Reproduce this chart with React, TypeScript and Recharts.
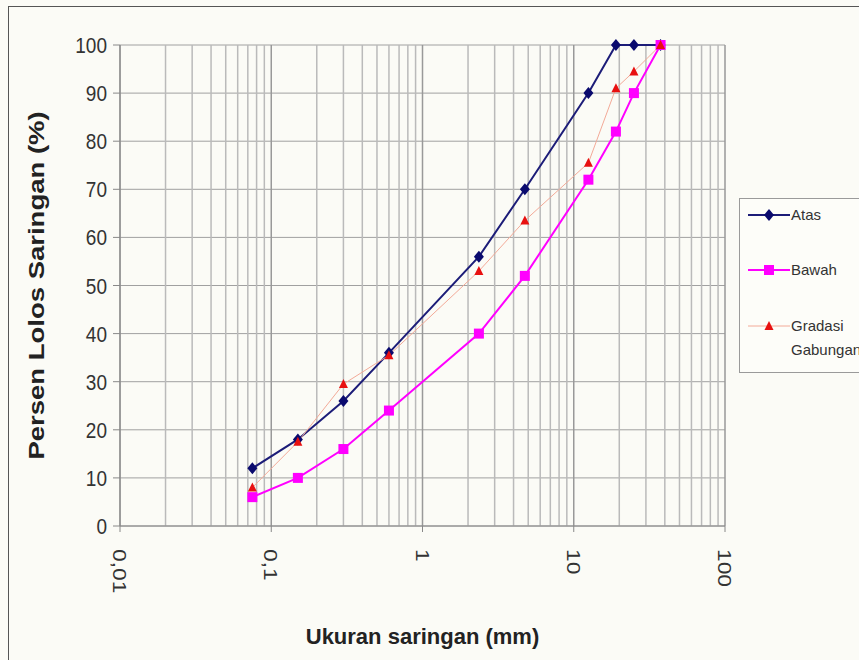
import { LineChart, Line, XAxis, YAxis, CartesianGrid, ReferenceLine, Label } from 'recharts';

const SIEVE = [0.075, 0.15, 0.3, 0.6, 2.36, 4.75, 12.5, 19, 25, 37.5];
const ATAS = [12, 18, 26, 36, 56, 70, 90, 100, 100, 100];
const BAWAH = [6, 10, 16, 24, 40, 52, 72, 82, 90, 100];
const GRADASI = [8, 17.5, 29.5, 35.5, 53, 63.5, 75.5, 91, 94.5, 100];

const X_TICKS = [0.01, 0.1, 1, 10, 100];
const X_TICK_LABELS = ['0,01', '0,1', '1', '10', '100'];
const Y_TICKS = [0, 10, 20, 30, 40, 50, 60, 70, 80, 90, 100];
const MINOR_STEPS = [2, 3, 4, 5, 6, 7, 8, 9];

const SERIES = [
  { key: 'atas', name: 'Atas', color: '#1c1c78', width: 2, marker: 'diamond' },
  { key: 'bawah', name: 'Bawah', color: '#ff00ff', width: 2, marker: 'square' },
  { key: 'gradasi', name: 'Gradasi Gabungan', color: '#f3aa98', width: 1, marker: 'triangle' },
];

const MARKER_COLORS: Record<string, string> = { diamond: '#0a0a6e', square: '#ff00ff', triangle: '#e81010' };

const data = SIEVE.map((s, i) => ({ size: s, atas: ATAS[i], bawah: BAWAH[i], gradasi: GRADASI[i] }));

const minorLines = X_TICKS.slice(0, -1).flatMap((d) => MINOR_STEPS.map((m) => +(d * m).toPrecision(3)));

const FONT = '"Liberation Sans", Arial, sans-serif';

function Marker({ type, cx, cy }: { type: string; cx: number; cy: number }) {
  const c = MARKER_COLORS[type];
  if (type === 'diamond') {
    return <path d={`M${cx},${cy - 6} L${cx + 5},${cy} L${cx},${cy + 6} L${cx - 5},${cy} Z`} fill={c} />;
  }
  if (type === 'square') {
    return <rect x={cx - 5} y={cy - 5} width={10} height={10} fill={c} />;
  }
  return <path d={`M${cx},${cy - 5} L${cx + 4.5},${cy + 4} L${cx - 4.5},${cy + 4} Z`} fill={c} />;
}

function XTick(props: any) {
  const { x, y, payload } = props;
  const i = X_TICKS.indexOf(payload.value);
  return (
    <text
      transform={`translate(${x},${y + 15}) rotate(90) scale(1.2,1)`}
      fontSize={19}
      fontFamily={FONT}
      fill="#333"
      dominantBaseline="central"
      textAnchor="start"
    >
      {X_TICK_LABELS[i]}
    </text>
  );
}

function YTick(props: any) {
  const { x, y, payload } = props;
  return (
    <text
      transform={`translate(${x - 4},${y}) scale(1,1.15)`}
      fontSize={19}
      fontFamily={FONT}
      fill="#333"
      textAnchor="end"
      dominantBaseline="central"
    >
      {payload.value}
    </text>
  );
}

function LegendBox() {
  return (
    <div
      style={{
        position: 'absolute',
        left: 739,
        top: 198,
        border: '1px solid #9a9a9a',
        borderRight: 'none',
        height: 173,
        width: 120,
        background: '#fdfdf9',
        fontFamily: '"Liberation Sans Narrow", "Liberation Sans", Arial, sans-serif',
        fontSize: 15,
        color: '#333',
      }}
    >
      {SERIES.map((s, i) => (
        <div key={s.key} style={{ position: 'absolute', left: 8, top: [6, 61, 117][i], display: 'flex', alignItems: 'flex-start' }}>
          <svg width={42} height={20}>
            <line x1={0} y1={10} x2={42} y2={10} stroke={s.color} strokeWidth={s.width} />
            <Marker type={s.marker} cx={21} cy={10} />
          </svg>
          <div style={{ marginLeft: 1, lineHeight: '24px', marginTop: -2 }}>
            {s.name.split(' ').map((w) => (
              <div key={w}>{w}</div>
            ))}
          </div>
        </div>
      ))}
    </div>
  );
}

export default function App() {
  return (
    <div style={{ position: 'absolute', left: 0, top: 0, width: 859, height: 660, background: '#fbfbf6', overflow: 'hidden' }}>
      <div style={{ position: 'absolute', left: 8, top: 6, width: 860, height: 660, borderLeft: '1px solid #555', borderTop: '1px solid #555' }} />
      <LineChart width={859} height={660} data={data} margin={{ top: 45, right: 134, bottom: 0, left: 0 }}>
        <CartesianGrid vertical={false} stroke="#a0a0a0" />
        {minorLines.map((v) => (
          <ReferenceLine key={v} x={v} stroke="#bababa" strokeWidth={1.5} />
        ))}
        {X_TICKS.map((v) => (
          <ReferenceLine key={'M' + v} x={v} stroke="#999" strokeWidth={1.5} />
        ))}
        <XAxis
          dataKey="size"
          type="number"
          scale="log"
          domain={[0.01, 100]}
          ticks={X_TICKS}
          height={134}
          tick={<XTick />}
          tickLine={{ stroke: '#888' }}
          tickSize={6}
          axisLine={{ stroke: '#888' }}
          interval={0}
        >
          <Label
            content={(p: any) => {
              const vb = p.viewBox;
              return (
                <text
                  x={vb.x + vb.width / 2}
                  y={vb.y + 110}
                  textAnchor="middle"
                  dominantBaseline="central"
                  fontSize={22}
                  fontWeight="bold"
                  fontFamily={FONT}
                  fill="#222"
                >
                  Ukuran saringan (mm)
                </text>
              );
            }}
          />
        </XAxis>
        <YAxis
          type="number"
          domain={[0, 100]}
          ticks={Y_TICKS}
          width={120}
          tick={<YTick />}
          tickLine={{ stroke: '#888' }}
          tickSize={7}
          axisLine={{ stroke: '#888' }}
          interval={0}
        >
          <Label
            content={(p: any) => {
              const vb = p.viewBox;
              return (
                <text
                  transform={`translate(${vb.x + 36},${vb.y + vb.height / 2}) rotate(-90) scale(1.25,1)`}
                  textAnchor="middle"
                  dominantBaseline="central"
                  fontSize={22}
                  fontWeight="bold"
                  fontFamily={FONT}
                  fill="#222"
                >
                  Persen Lolos Saringan (%)
                </text>
              );
            }}
          />
        </YAxis>
        {SERIES.map((s) => (
          <Line
            key={s.key}
            dataKey={s.key}
            name={s.name}
            type="linear"
            stroke={s.color}
            strokeWidth={s.width}
            isAnimationActive={false}
            dot={(p: any) => <Marker key={p.index} type={s.marker} cx={p.cx} cy={p.cy} />}
            activeDot={false}
          />
        ))}
      </LineChart>
      <LegendBox />
    </div>
  );
}
